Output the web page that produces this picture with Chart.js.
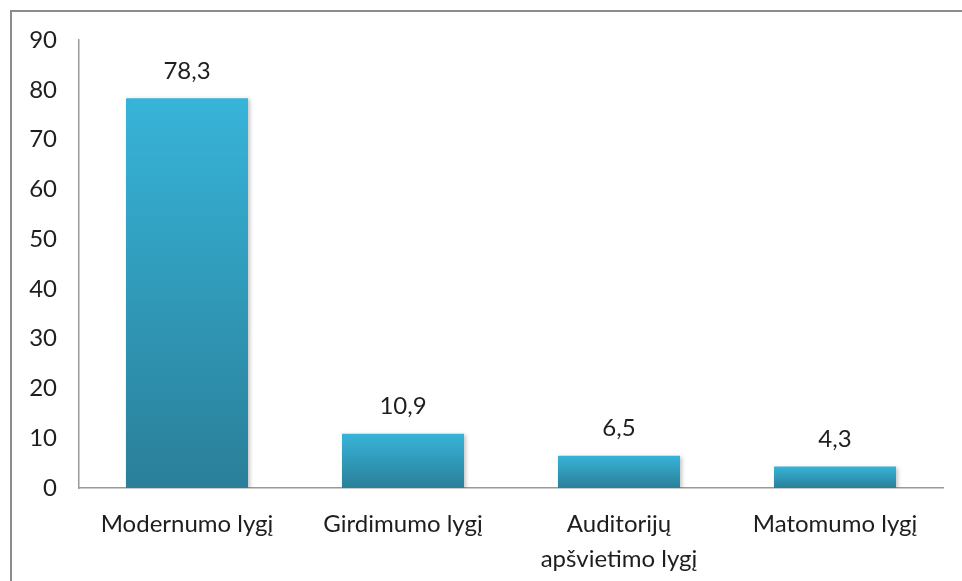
<!DOCTYPE html>
<html>
<head>
<meta charset="utf-8">
<script src="https://cdn.jsdelivr.net/npm/chart.js@4/dist/chart.umd.min.js"></script>
<style>
  html, body { margin: 0; padding: 0; background: #fff; }
  #wrap { position: relative; width: 962px; height: 581px; }
  #frame {
    position: absolute; left: 10px; top: 10px; right: 0; bottom: 0;
    border-left: 2px solid #8c8c8c; border-top: 2px solid #8c8c8c;
    pointer-events: none;
  }
</style>
</head>
<body>
<div id="wrap">
  <canvas id="chart" width="962" height="581"></canvas>
  <div id="frame"></div>
</div>
<script>
const categories = ['Modernumo lygį', 'Girdimumo lygį', ['Auditorijų', 'apšvietimo lygį'], 'Matomumo lygį'];
const values = [78.3, 10.9, 6.5, 4.3];
const yTicks = [0, 10, 20, 30, 40, 50, 60, 70, 80, 90];

const fontFamily = 'Lato, "Open Sans", sans-serif';
const textColor = '#1e1e1e';

function barGradient(context) {
  const chart = context.chart;
  const { ctx, chartArea, scales } = chart;
  if (!chartArea || context.dataIndex === undefined) return '#33a8cc';
  const top = scales.y.getPixelForValue(values[context.dataIndex]);
  const bottom = scales.y.getPixelForValue(0);
  const g = ctx.createLinearGradient(0, top, 0, bottom);
  g.addColorStop(0, '#37b4d9');
  g.addColorStop(1, '#2a7f99');
  return g;
}

const barShadow = {
  id: 'barShadow',
  beforeDatasetsDraw(chart) {
    const ctx = chart.ctx;
    ctx.save();
    ctx.shadowColor = 'rgba(0,0,0,0.22)';
    ctx.shadowBlur = 4;
    ctx.shadowOffsetX = 2;
    ctx.shadowOffsetY = 1;
  },
  afterDatasetsDraw(chart) {
    chart.ctx.restore();
  }
};

const valueLabels = {
  id: 'valueLabels',
  afterDatasetsDraw(chart) {
    const ctx = chart.ctx;
    const meta = chart.getDatasetMeta(0);
    ctx.save();
    ctx.font = '24px ' + fontFamily;
    ctx.fillStyle = textColor;
    ctx.textAlign = 'center';
    ctx.textBaseline = 'middle';
    meta.data.forEach((bar, i) => {
      ctx.fillText(values[i].toFixed(1).replace('.', ','), bar.x, bar.y - 27);
    });
    ctx.restore();
  }
};

new Chart(document.getElementById('chart'), {
  type: 'bar',
  data: {
    labels: categories,
    datasets: [{
      data: values,
      backgroundColor: barGradient,
      borderWidth: 0,
      barPercentage: 0.565,
      categoryPercentage: 1
    }]
  },
  options: {
    responsive: false,
    animation: false,
    layout: { padding: { top: 40, right: 19, left: 0, bottom: 0 } },
    plugins: { legend: { display: false }, tooltip: { enabled: false } },
    scales: {
      x: {
        grid: { display: false },
        border: { display: true, color: '#9a9a9a', width: 1.5 },
        ticks: {
          color: textColor,
          font: { family: fontFamily, size: 24, lineHeight: 1.45 },
          padding: 11,
          maxRotation: 0,
          autoSkip: false
        },
        afterFit(scale) { scale.height = 93; }
      },
      y: {
        min: 0,
        max: 90,
        afterBuildTicks(scale) { scale.ticks = yTicks.map(v => ({ value: v })); },
        grid: { display: false },
        border: { display: true, color: '#9a9a9a', width: 1.5 },
        ticks: {
          color: textColor,
          font: { family: fontFamily, size: 24 },
          padding: 14
        },
        afterFit(scale) { scale.width = 79; }
      }
    }
  },
  plugins: [barShadow, valueLabels]
});
</script>
</body>
</html>
